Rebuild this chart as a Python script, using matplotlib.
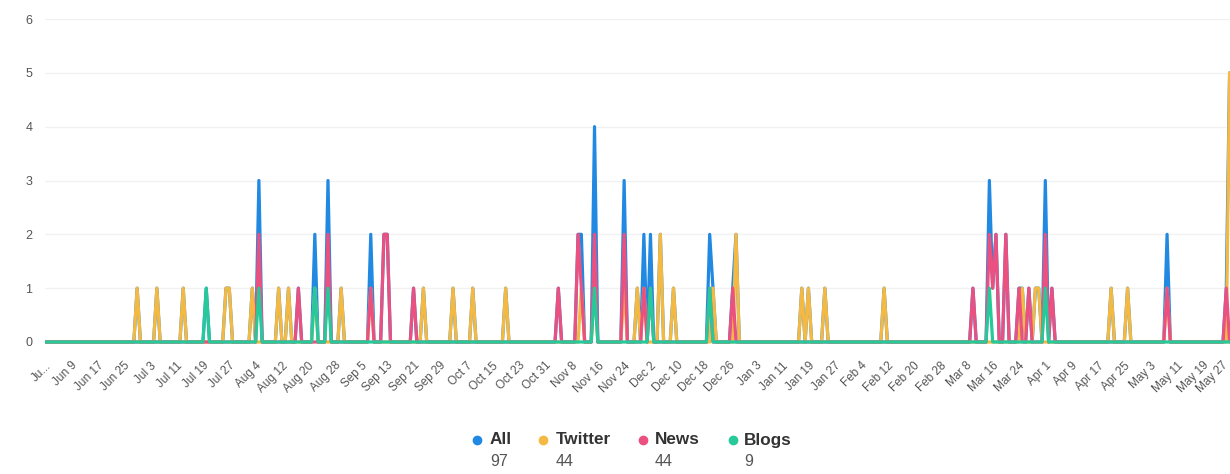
import pandas as pd
import matplotlib.pyplot as plt
from matplotlib.lines import Line2D
from matplotlib.transforms import ScaledTranslation

plt.rcParams['font.family'] = ['Liberation Sans', 'DejaVu Sans']

# daily mentions, Jun 1 2018 - May 31 2019 (days not listed are 0)
start_date = '2018-06-01'
end_date = '2019-05-31'

all_dates = ['2018-06-29', '2018-07-05', '2018-07-13', '2018-07-20', '2018-07-26', '2018-07-27',
             '2018-08-03', '2018-08-05', '2018-08-11', '2018-08-14', '2018-08-17', '2018-08-22',
             '2018-08-26', '2018-08-30', '2018-09-08', '2018-09-12', '2018-09-13', '2018-09-21',
             '2018-09-24', '2018-10-03', '2018-10-09', '2018-10-19', '2018-11-04', '2018-11-10',
             '2018-11-11', '2018-11-15', '2018-11-24', '2018-11-28', '2018-11-30', '2018-12-02',
             '2018-12-05', '2018-12-09', '2018-12-20', '2018-12-21', '2018-12-27', '2018-12-28',
             '2019-01-17', '2019-01-19', '2019-01-24', '2019-02-11', '2019-03-10', '2019-03-15',
             '2019-03-16', '2019-03-17', '2019-03-20', '2019-03-24', '2019-03-25', '2019-03-27',
             '2019-03-29', '2019-03-30', '2019-04-01', '2019-04-03', '2019-04-21', '2019-04-26',
             '2019-05-08', '2019-05-26', '2019-05-27']
all_values = [1, 1, 1, 1, 1, 1,
              1, 3, 1, 1, 1, 2,
              3, 1, 2, 2, 2, 1,
              1, 1, 1, 1, 1, 2,
              2, 4, 3, 1, 2, 2,
              2, 1, 2, 1, 1, 2,
              1, 1, 1, 1, 1, 3,
              1, 2, 2, 1, 1, 1,
              1, 1, 3, 1, 1, 1,
              2, 1, 5]

twitter_dates = ['2018-06-29', '2018-07-05', '2018-07-13', '2018-07-26', '2018-07-27', '2018-08-03',
                 '2018-08-11', '2018-08-14', '2018-08-22', '2018-08-30', '2018-09-08', '2018-09-24',
                 '2018-10-03', '2018-10-09', '2018-10-19', '2018-11-11', '2018-11-15', '2018-11-24',
                 '2018-11-28', '2018-11-30', '2018-12-05', '2018-12-09', '2018-12-21', '2018-12-28',
                 '2019-01-17', '2019-01-19', '2019-01-24', '2019-02-11', '2019-03-25', '2019-03-29',
                 '2019-03-30', '2019-04-21', '2019-04-26', '2019-05-08', '2019-05-27']
twitter_values = [1, 1, 1, 1, 1, 1,
                  1, 1, 1, 1, 1, 1,
                  1, 1, 1, 1, 1, 1,
                  1, 1, 2, 1, 1, 2,
                  1, 1, 1, 1, 1, 1,
                  1, 1, 1, 1, 5]

news_dates = ['2018-08-05', '2018-08-17', '2018-08-26', '2018-09-08', '2018-09-12', '2018-09-13',
              '2018-09-21', '2018-11-04', '2018-11-10', '2018-11-11', '2018-11-15', '2018-11-24',
              '2018-11-30', '2018-12-02', '2018-12-20', '2018-12-27', '2019-03-10', '2019-03-15',
              '2019-03-16', '2019-03-17', '2019-03-20', '2019-03-24', '2019-03-27', '2019-04-01',
              '2019-04-03', '2019-05-08', '2019-05-26']
news_values = [2, 1, 2, 1, 2, 2,
               1, 1, 2, 1, 2, 2,
               1, 1, 1, 1, 1, 2,
               1, 2, 2, 1, 1, 2,
               1, 1, 1]

blogs_dates = ['2018-07-20', '2018-08-05', '2018-08-22', '2018-08-26', '2018-11-15', '2018-12-02',
               '2018-12-20', '2019-03-15', '2019-04-01']
blogs_values = [1, 1, 1, 1, 1, 1, 1, 1, 1]

series_names = ['All', 'Twitter', 'News', 'Blogs']
series_totals = [97, 44, 44, 9]
colors = ['#2189e2', '#f4b942', '#ea5080', '#27c899']

days = pd.date_range(start_date, end_date, freq='D')


def daily(dates, values):
    s = pd.Series(0, index=days)
    s.loc[pd.to_datetime(dates)] = values
    return s


series = [daily(all_dates, all_values), daily(twitter_dates, twitter_values),
          daily(news_dates, news_values), daily(blogs_dates, blogs_values)]

W, H = 1230, 474
fig = plt.figure(figsize=(W / 100, H / 100), dpi=100)
y0_px, y6_px = 342, 19
unit = (y0_px - y6_px) / 6
ymin = -0.07
bottom_px = y0_px - ymin * unit
ax = fig.add_axes([45 / W, 1 - bottom_px / H, 1 - 45 / W, (bottom_px - y6_px) / H])

for s, c in zip(series, colors):
    ax.plot(s.index, s.values, color=c, lw=2.3, solid_joinstyle='round', solid_capstyle='round')

ax.set_ylim(ymin, 6)
ax.set_xlim(pd.Timestamp(start_date), pd.Timestamp('2019-05-27') + pd.Timedelta(hours=3))
ax.set_yticks(range(7))
ax.grid(axis='y', color='#f1f1f1', lw=1)
ax.set_axisbelow(True)
for sp in ax.spines.values():
    sp.set_visible(False)

ticks = pd.date_range(start_date, '2019-05-27', freq='8D')
labels = [f'{t:%b} {t.day}' for t in ticks]
labels[0] = 'Ju...'
ax.set_xticks(ticks)
ax.set_xticklabels(labels, rotation=45, ha='right', va='top', rotation_mode='anchor')
ax.tick_params(axis='x', length=0, pad=10, labelsize=8.5, labelcolor='#555555')
ax.tick_params(axis='y', length=0, pad=9, labelsize=9, labelcolor='#555555')

# keep the last date label inside the image
last = ax.get_xticklabels()[-1]
last.set_transform(last.get_transform() + ScaledTranslation(-8 / 100, 0, fig.dpi_scale_trans))

# legend with totals
dot_x = [477, 543, 643, 733]
text_x = [490, 556, 655, 744]
for dx, tx, name, total, c in zip(dot_x, text_x, series_names, series_totals, colors):
    fig.add_artist(Line2D([dx / W], [1 - 440 / H], marker='o', color=c, markersize=6,
                          transform=fig.transFigure))
    fig.text(tx / W, 1 - 440 / H, name, fontsize=12.3, fontweight='bold',
             color='#333333', va='center', ha='left')
    fig.text(tx / W, 1 - 461 / H, str(total), fontsize=11.5,
             color='#555555', va='center', ha='left')

fig.savefig('out.png', dpi=100)
